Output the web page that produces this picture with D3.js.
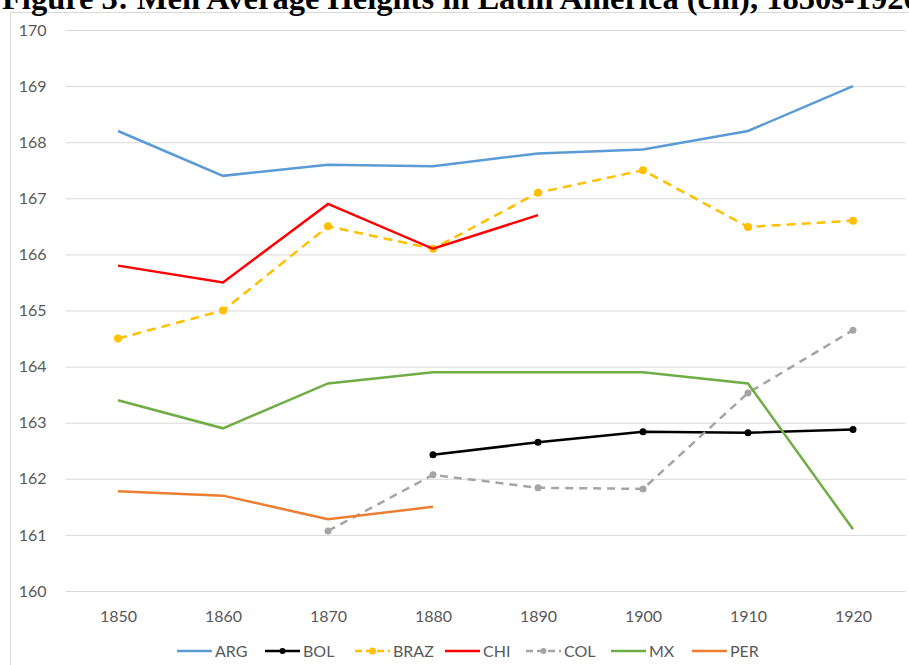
<!DOCTYPE html>
<html>
<head>
<meta charset="utf-8">
<script src="https://cdn.jsdelivr.net/npm/d3@7"></script>
<style>
  body { margin: 0; background: #fff; }
  svg text { font-family: Lato, "Open Sans", sans-serif; }
</style>
</head>
<body>
<svg id="chart" width="909" height="665"></svg>
<script>
// données
const years = [1850, 1860, 1870, 1880, 1890, 1900, 1910, 1920];
const yTicks = [160, 161, 162, 163, 164, 165, 166, 167, 168, 169, 170];
const seriesNames = ['ARG', 'BOL', 'BRAZ', 'CHI', 'COL', 'MX', 'PER'];

const arg  = [168.2, 167.4, 167.6, 167.57, 167.8, 167.87, 168.2, 169.0];
const bol  = [null, null, null, 162.43, 162.65, 162.84, 162.82, 162.88];
const braz = [164.5, 165.0, 166.5, 166.1, 167.1, 167.5, 166.49, 166.6];
const chi  = [165.8, 165.5, 166.9, 166.1, 166.7, null, null, null];
const col  = [null, null, 161.07, 162.07, 161.84, 161.82, 163.53, 164.65];
const mx   = [163.4, 162.9, 163.7, 163.9, 163.9, 163.9, 163.7, 161.1];
const per  = [161.78, 161.7, 161.28, 161.5, null, null, null, null];

const styles = {
  ARG:  {color: '#5B9BD5', dash: null, marker: 0},
  BOL:  {color: '#000000', dash: null, marker: 3.5},
  BRAZ: {color: '#FFC000', dash: '9,6', marker: 4},
  CHI:  {color: '#FF0000', dash: null, marker: 0},
  COL:  {color: '#A5A5A5', dash: '8,6', marker: 3.5},
  MX:   {color: '#70AD47', dash: null, marker: 0},
  PER:  {color: '#ED7D31', dash: null, marker: 0}
};
const values = {ARG: arg, BOL: bol, BRAZ: braz, CHI: chi, COL: col, MX: mx, PER: per};

const svg = d3.select('#chart');
const plot = {left: 65.5, right: 905.5, top: 30, bottom: 591};

// cadre du graphique
svg.append('rect')
  .attr('x', 10.5).attr('y', 12.5)
  .attr('width', 930).attr('height', 700)
  .attr('fill', 'none').attr('stroke', '#D9D9D9');

// titre (coupé en haut comme sur l'original)
svg.append('text')
  .attr('x', 2).attr('y', 9)
  .style('font-family', '"Liberation Serif", "Times New Roman", serif')
  .style('font-weight', 'bold')
  .style('font-size', '32.5px')
  .attr('fill', '#000')
  .text('Figure 3: Men Average Heights in Latin America (cm), 1850s-1920s');

const x = d3.scalePoint().domain(years).range([plot.left, plot.right]).padding(0.5);
const y = d3.scaleLinear().domain([160, 170]).range([plot.bottom, plot.top]);

// grille horizontale + étiquettes Y
const yAxis = svg.append('g')
  .attr('transform', `translate(${plot.left},0)`)
  .call(d3.axisLeft(y).tickValues(yTicks).tickSize(-(plot.right - plot.left)).tickPadding(19).tickFormat(d3.format('d')));
yAxis.select('.domain').remove();
yAxis.selectAll('.tick line').attr('stroke', '#D9D9D9').attr('stroke-width', 1);
yAxis.selectAll('.tick text').attr('fill', '#595959').style('font-size', '16px');

// étiquettes X
const xAxis = svg.append('g')
  .attr('transform', `translate(0,${plot.bottom})`)
  .call(d3.axisBottom(x).tickSize(0).tickPadding(20));
xAxis.select('.domain').remove();
xAxis.selectAll('.tick text').attr('fill', '#595959').style('font-size', '16px');

// séries
const line = d3.line()
  .defined(d => d.v !== null)
  .x(d => x(d.year))
  .y(d => y(d.v));

seriesNames.forEach(name => {
  const st = styles[name];
  const pts = years.map((yr, i) => ({year: yr, v: values[name][i]}));
  svg.append('path')
    .datum(pts)
    .attr('fill', 'none')
    .attr('stroke', st.color)
    .attr('stroke-width', 2.5)
    .attr('stroke-dasharray', st.dash)
    .attr('d', line);
  if (st.marker) {
    svg.selectAll(null)
      .data(pts.filter(d => d.v !== null))
      .enter().append('circle')
      .attr('cx', d => x(d.year))
      .attr('cy', d => y(d.v))
      .attr('r', st.marker)
      .attr('fill', st.color);
  }
});

// légende
const legendX = [177, 265, 355, 445, 526, 611, 692];
const legendY = 651;
const leg = svg.append('g');
seriesNames.forEach((name, i) => {
  const st = styles[name];
  const g = leg.append('g').attr('transform', `translate(${legendX[i]},${legendY})`);
  g.append('line')
    .attr('x1', 0).attr('x2', 35).attr('y1', 0).attr('y2', 0)
    .attr('stroke', st.color).attr('stroke-width', 2.5)
    .attr('stroke-dasharray', st.dash ? '7,4' : null);
  if (st.marker) {
    g.append('circle').attr('cx', 17.5).attr('cy', 0).attr('r', st.marker - 0.5).attr('fill', st.color);
  }
  g.append('text')
    .attr('x', 38).attr('y', 0).attr('dy', '0.35em')
    .attr('fill', '#595959').style('font-size', '16px')
    .text(name);
});
</script>
</body>
</html>
